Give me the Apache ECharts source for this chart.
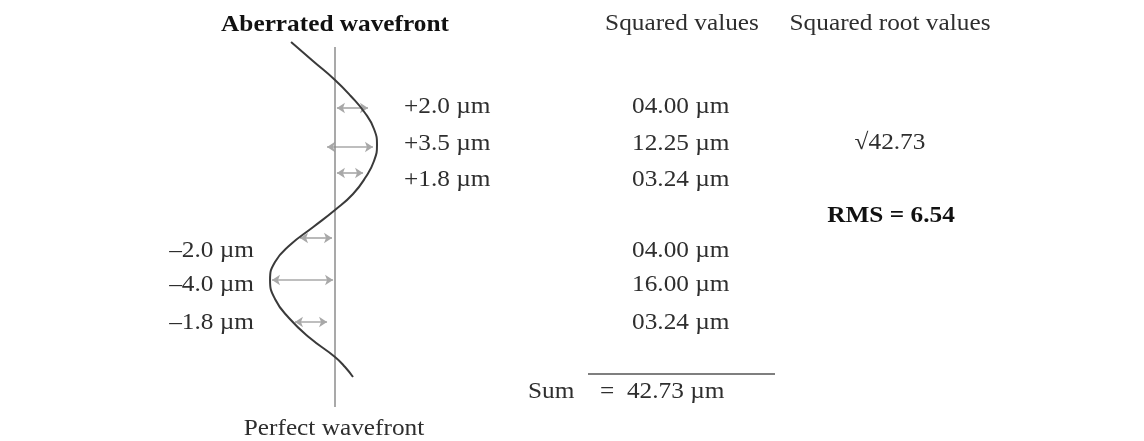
<!DOCTYPE html>
<html>
<head>
<meta charset="utf-8">
<script src="https://cdn.jsdelivr.net/npm/echarts@6/dist/echarts.min.js"></script>
<style>
  html, body { margin: 0; padding: 0; background: #fff; }
  #chart { width: 1144px; height: 441px; }
</style>
</head>
<body>
<div id="chart"></div>
<script>
// wavefront deviations (µm) and their squares
const deviations = [2.0, 3.5, 1.8, -2.0, -4.0, -1.8]
const squaredValues = [4.0, 12.25, 3.24, 4.0, 16.0, 3.24]
const sumValue = 42.73
const rmsValue = 6.54

// aberrated wavefront shape, offset from the perfect wavefront (µm) vs position along it
const curveOffset = [-2.93, -1.47, 0, 1.05, 2.0, 2.6, 2.8, 2.6, 2.05, 1.2, 0, -1.45, -3.0, -4.0, -4.33, -4.0, -3.07, -1.67, 0, 0.67, 1.2]
const curvePos = [4.2, 6.1, 8.0, 9.6, 11.3, 12.9, 14.5, 16.1, 17.7, 19.4, 21.0, 22.7, 24.5, 26.2, 28.0, 29.9, 31.8, 33.8, 35.7, 36.7, 37.7]

// where the deviations are measured, and the arrow spans as drawn
const samplePos = [10.8, 14.7, 17.3, 23.8, 28.0, 32.2]
const arrowFrom = [0.13, -0.53, 0.13, -2.33, -4.2, -2.67]
const arrowTo = [2.2, 2.53, 1.87, -0.2, -0.13, -0.53]
const labelPos = [10.7, 14.4, 18.0, 25.1, 28.5, 32.3]
const perfectSpan = [4.7, 40.7]

const headers = ['Aberrated wavefront', 'Squared values', 'Squared root values']

const fmtDev = (v) => (v > 0 ? '+' : '\u2013') + Math.abs(v).toFixed(1) + ' \u00b5m'
const fmtSq = (v) => v.toFixed(2).padStart(5, '0') + ' \u00b5m'

// text items: [x, pos] in the layout grid
const texts = []
const addText = (x, pos, text, align, bold) => texts.push({ value: [x, pos], text, align, bold })
addText(335, 2.5, headers[0], 'center', true)
addText(682, 2.4, headers[1], 'center', false)
addText(890, 2.4, headers[2], 'center', false)
deviations.forEach((d, i) => {
  if (d > 0) addText(404, labelPos[i], fmtDev(d), 'left', false)
  else addText(254, labelPos[i], fmtDev(d), 'right', false)
  addText(632, labelPos[i], fmtSq(squaredValues[i]), 'left', false)
})
addText(890, 14.3, '\u221a' + sumValue.toFixed(2), 'center', false)
addText(891, 21.6, 'RMS = ' + rmsValue.toFixed(2), 'center', true)
addText(528, 39.2, 'Sum', 'left', false)
addText(600, 39.2, '=  ' + sumValue.toFixed(2) + ' \u00b5m', 'left', false)
addText(334, 42.9, 'Perfect wavefront', 'center', false)

const chart = echarts.init(document.getElementById('chart'))

const hiddenAxis = { show: false }

chart.setOption({
  animation: false,
  backgroundColor: '#fff',
  grid: [
    { left: 0, right: 0, top: 0, bottom: 0 },
    { left: 0, right: 0, top: 0, bottom: 0 }
  ],
  xAxis: [
    { type: 'value', gridIndex: 0, min: -335 / 15, max: (1144 - 335) / 15, ...hiddenAxis },
    { type: 'value', gridIndex: 1, min: 0, max: 1144, ...hiddenAxis }
  ],
  yAxis: [
    { type: 'value', gridIndex: 0, min: 0, max: 44.1, inverse: true, ...hiddenAxis },
    { type: 'value', gridIndex: 1, min: 0, max: 44.1, inverse: true, ...hiddenAxis }
  ],
  series: [
    {
      // perfect wavefront
      type: 'line',
      xAxisIndex: 0,
      yAxisIndex: 0,
      data: perfectSpan.map((p) => [0, p]),
      symbol: 'none',
      lineStyle: { color: '#8c8c8c', width: 1.5 }
    },
    {
      type: 'lines',
      coordinateSystem: 'cartesian2d',
      xAxisIndex: 0,
      yAxisIndex: 0,
      symbol: ['arrow', 'arrow'],
      symbolSize: 8,
      lineStyle: { color: '#a8a8a8', width: 1.6, opacity: 1 },
      data: samplePos.map((p, i) => ({ coords: [[arrowFrom[i], p], [arrowTo[i], p]] }))
    },
    {
      // aberrated wavefront
      type: 'line',
      xAxisIndex: 0,
      yAxisIndex: 0,
      data: curveOffset.map((o, i) => [o, curvePos[i]]),
      smooth: 0.5,
      symbol: 'none',
      lineStyle: { color: '#3a3a3a', width: 2 }
    },
    {
      // sum rule
      type: 'line',
      xAxisIndex: 1,
      yAxisIndex: 1,
      data: [[588, 37.4], [775, 37.4]],
      symbol: 'none',
      lineStyle: { color: '#555', width: 1.5 }
    },
    {
      type: 'custom',
      xAxisIndex: 1,
      yAxisIndex: 1,
      data: texts,
      renderItem: (params, api) => {
        const t = texts[params.dataIndex]
        const p = api.coord([api.value(0), api.value(1)])
        return {
          type: 'text',
          x: p[0],
          y: p[1],
          scaleX: 1.1,
          style: {
            text: t.text,
            fill: t.bold ? '#111' : '#2e2e2e',
            font: (t.bold ? 'bold ' : '') + '23px "Liberation Serif", "Times New Roman", serif',
            align: t.align,
            verticalAlign: 'middle'
          }
        }
      }
    }
  ]
})
</script>
</body>
</html>
